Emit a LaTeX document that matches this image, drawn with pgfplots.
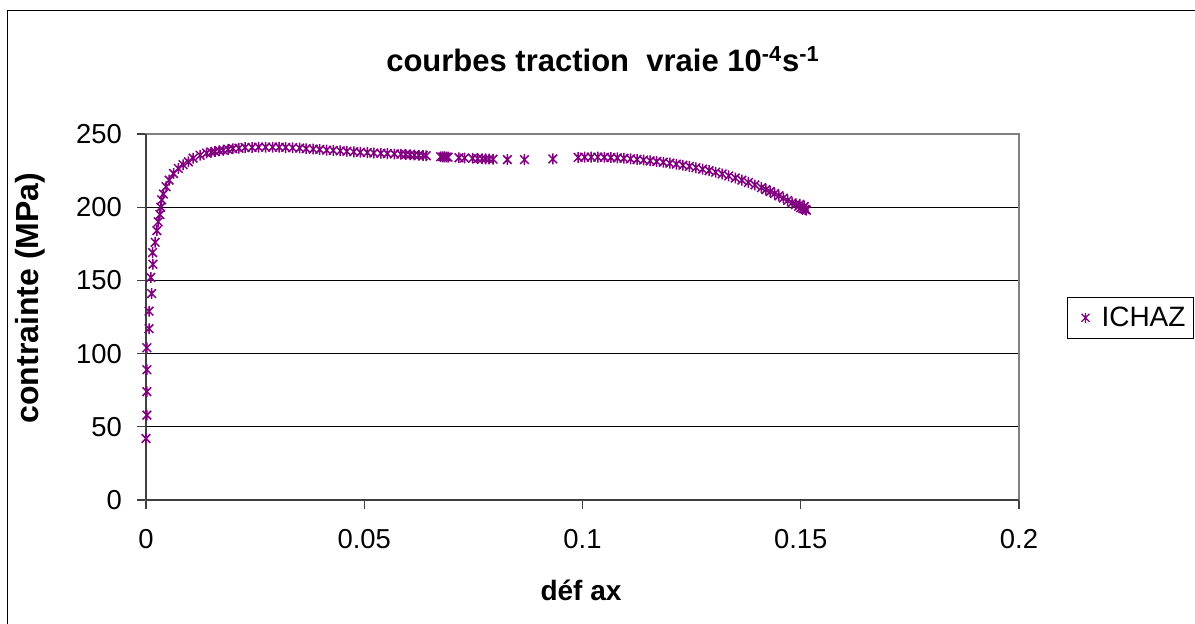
\documentclass[border=0pt]{standalone}
\usepackage{pgfplots}
\pgfplotsset{compat=1.18}
\usepackage{fontspec}
\setmainfont{Liberation Sans}
\definecolor{xlpurple}{RGB}{128,0,128}
\definecolor{axdark}{RGB}{64,64,64}
\pgfdeclareplotmark{xstar}{%
  \pgfpathmoveto{\pgfqpoint{-0.8\pgfplotmarksize}{-0.8\pgfplotmarksize}}%
  \pgfpathlineto{\pgfqpoint{0.8\pgfplotmarksize}{0.8\pgfplotmarksize}}%
  \pgfpathmoveto{\pgfqpoint{-0.8\pgfplotmarksize}{0.8\pgfplotmarksize}}%
  \pgfpathlineto{\pgfqpoint{0.8\pgfplotmarksize}{-0.8\pgfplotmarksize}}%
  \pgfpathmoveto{\pgfqpoint{0pt}{-\pgfplotmarksize}}%
  \pgfpathlineto{\pgfqpoint{0pt}{\pgfplotmarksize}}%
  \pgfusepathqstroke}
\pgfplotstableread{
x y
0.0000 42
0.0002 58
0.0002 74
0.0002 89
0.0002 104
0.0007 117
0.0007 129
0.0013 141
0.0011 152
0.0016 161
0.0015 169
0.0021 176
0.0025 184
0.0028 190
0.0032 195
0.0034 200
0.0036 205
0.0040 209
0.0046 214
0.0053 218.5
0.0063 223
0.0074 226.5
0.0085 229
0.0097 231
0.0108 233.5
0.0124 235.5
0.0139 237
0.0150 237.5
0.0158 238
0.0168 238.5
0.0177 239
0.0188 239.5
0.0199 240
0.0213 240.3
0.0227 240.8
0.0243 240.8
0.0258 241
0.0274 241
0.0290 241
0.0305 241
0.0320 240.8
0.0336 240.6
0.0352 240.4
0.0367 240
0.0383 239.7
0.0398 239.4
0.0414 239
0.0429 238.8
0.0445 238.5
0.0460 238.2
0.0476 237.8
0.0491 237.5
0.0507 237.3
0.0522 237
0.0538 236.8
0.0553 236.6
0.0569 236.4
0.0584 236.2
0.0595 236
0.0605 235.8
0.0615 235.6
0.0625 235.5
0.0635 235.3
0.0642 235.2
0.0675 234.5
0.0680 234.4
0.0684 234.4
0.0688 234.3
0.0692 234.2
0.0717 233.8
0.0730 233.6
0.0748 233.4
0.0760 233.2
0.0770 233.1
0.0778 233.0
0.0786 232.9
0.0795 232.8
0.0828 232.5
0.0867 232.5
0.0932 233.0
0.0990 234.0
0.1005 234.2
0.1020 234.2
0.1035 234.2
0.1050 234.1
0.1065 233.9
0.1080 233.7
0.1095 233.4
0.1110 233.0
0.1125 232.6
0.1140 232.2
0.1155 231.7
0.1170 231.2
0.1185 230.7
0.1200 230.1
0.1215 229.4
0.1230 228.7
0.1245 227.9
0.1260 227.0
0.1275 226.0
0.1290 225.0
0.1305 223.9
0.1320 222.7
0.1335 221.4
0.1350 220.0
0.1365 218.5
0.1380 216.9
0.1395 215.2
0.1410 213.4
0.1420 212.0
0.1430 210.7
0.1440 209.3
0.1450 207.8
0.1460 206.2
0.1470 204.6
0.1480 203.0
0.1488 201.8
0.1495 200.6
0.1500 199.7
0.1505 199.0
0.1510 198.5
0.1513 198.0
0.1508 200.5
0.1498 202.0
}\ichaz
\begin{document}
\begin{tikzpicture}
\useasboundingbox (0pt,0pt) rectangle (597.5pt,-311.5pt);
\draw[black,line width=0.6pt] (3.75pt,-320pt) -- (3.75pt,-5.25pt) -- (605pt,-5.25pt);
\begin{axis}[
  at={(73pt,-250pt)}, anchor=south west,
  scale only axis, width=436.5pt, height=183pt,
  xmin=0, xmax=0.2, ymin=0, ymax=250,
  xtick={0,0.05,0.1,0.15,0.2},
  xticklabels={0,0.05,0.1,0.15,0.2},
  ytick={0,50,100,150,200,250},
  yticklabels={0,50,100,150,200,250},
  tick align=outside, major tick length=4.5pt,
  tick style={axdark, line width=0.6pt},
  xtick pos=bottom, ytick pos=left,
  ymajorgrids, grid style={black, line width=0.5pt},
  axis line style={gray, line width=0.7pt},
  ticklabel style={font=\fontsize{13.7}{16}\selectfont},
  xticklabel style={yshift=-6.5pt},
  yticklabel style={xshift=-4pt},
  legend style={at={(1.055,0.5546)}, anchor=north west, draw=black, line width=0.5pt,
    font=\fontsize{14}{16}\selectfont, inner xsep=2pt, inner ysep=2.5pt},
  legend image code/.code={\path[draw=none] (0pt,0pt) -- (13pt,0pt);\draw[mark size=2.5pt, line width=0.6pt] plot coordinates {(7pt,0pt)};},
  clip=false,
]
\addplot[only marks, mark=xstar, mark size=2.7pt, xlpurple, line width=0.75pt] table[x=x,y=y] {\ichaz};
\addlegendentry{ICHAZ}
\draw[axdark, line width=0.8pt] (rel axis cs:0,0) -- (rel axis cs:0,1);
\draw[axdark, line width=0.8pt] (rel axis cs:0,0) -- (rel axis cs:1,0);
\end{axis}
\node[font=\bfseries\fontsize{15.5}{18}\selectfont] at (301.5pt,-29.5pt) {courbes traction\ \ vraie 10\textsuperscript{-4}s\textsuperscript{-1}};
\node[font=\bfseries\fontsize{14}{17}\selectfont] at (290.5pt,-295pt) {déf ax};
\node[font=\bfseries\fontsize{16}{19}\selectfont, rotate=90] at (15pt,-149pt) {contrainte (MPa)};
\end{tikzpicture}
\end{document}
